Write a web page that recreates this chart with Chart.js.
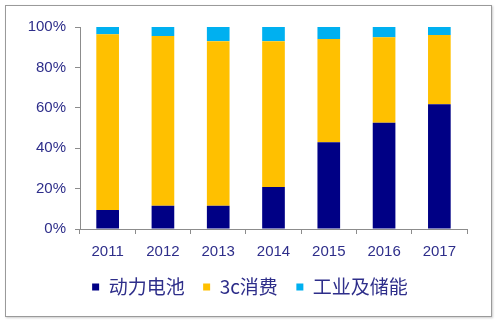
<!DOCTYPE html>
<html>
<head>
<meta charset="utf-8">
<script src="https://cdn.jsdelivr.net/npm/chart.js@4.4.0/dist/chart.umd.min.js"></script>
<style>
  html, body { margin: 0; padding: 0; background: #fff; }
  #wrap { position: relative; width: 500px; height: 321px; }
  #frame { position: absolute; left: 5px; top: 5px; width: 485px; height: 310px; border: 1px solid #9a9a9a; box-shadow: 1px 1px 2px #ccc; pointer-events: none; }
  canvas { position: absolute; left: 0; top: 0; }
</style>
</head>
<body>
<div id="wrap">
  <canvas id="shareChart" width="500" height="321"></canvas>
  <div id="frame"></div>
</div>
<script>
// --- data ---
const years = ['2011', '2012', '2013', '2014', '2015', '2016', '2017'];
const powerBattery = [9.4, 11.5, 11.5, 20.8, 42.9, 52.6, 61.7];
const consumer3c = [87.0, 84.0, 81.5, 72.2, 51.1, 42.3, 34.3];
const industrialStorage = [3.6, 4.5, 7.0, 7.0, 6.0, 5.1, 4.0];
const seriesNames = ['动力电池', '3c消费', '工业及储能'];
const yTicks = [0, 20, 40, 60, 80, 100];

document.addEventListener('DOMContentLoaded', function () {
    let ctx = document.getElementById('shareChart').getContext('2d');
    const labelColor = '#2e2e8a';
    const axisColor = '#8c8c8c';

    let shareChart = new Chart(ctx, {
        type: 'bar',
        data: {
            labels: years,
            datasets: [
                { label: seriesNames[0], data: powerBattery, backgroundColor: '#000085' },
                { label: seriesNames[1], data: consumer3c, backgroundColor: '#FFC000' },
                { label: seriesNames[2], data: industrialStorage, backgroundColor: '#00B0F0' }
            ]
        },
        options: {
            responsive: false,
            animation: false,
            datasets: {
                bar: { barPercentage: 0.41, categoryPercentage: 1.0 }
            },
            layout: {
                padding: { left: 0, right: 0, top: 27, bottom: 14.5 }
            },
            scales: {
                x: {
                    stacked: true,
                    offset: true,
                    afterFit: function (scale) { scale.height = 30; },
                    border: { color: axisColor, width: 1 },
                    grid: { offset: true, drawOnChartArea: false, tickLength: 5, color: axisColor },
                    ticks: {
                        color: labelColor,
                        padding: 9,
                        font: { size: 15, family: 'Liberation Sans' }
                    }
                },
                y: {
                    stacked: true,
                    min: 0,
                    max: 100,
                    afterBuildTicks: function (scale) {
                        scale.ticks = yTicks.map(v => ({ value: v }));
                    },
                    afterFit: function (scale) { scale.width = 80; },
                    border: { color: axisColor, width: 1 },
                    grid: { drawOnChartArea: false, tickLength: 5, color: axisColor },
                    ticks: {
                        color: labelColor,
                        padding: 9,
                        callback: v => v + '%',
                        font: { size: 15, family: 'Liberation Sans' }
                    }
                },
                // empty right-hand spacer so the legend stays centred on the whole frame
                ySpacer: {
                    position: 'right',
                    afterFit: function (scale) { scale.width = 33; },
                    border: { display: false },
                    grid: { display: false },
                    ticks: { display: false }
                }
            },
            plugins: {
                legend: {
                    position: 'bottom',
                    labels: {
                        color: labelColor,
                        boxWidth: 7,
                        boxHeight: 7,
                        padding: 18.5,
                        font: { size: 19, family: 'Noto Sans CJK SC' }
                    }
                },
                tooltip: { enabled: false }
            }
        }
    });
});
</script>
</body>
</html>
